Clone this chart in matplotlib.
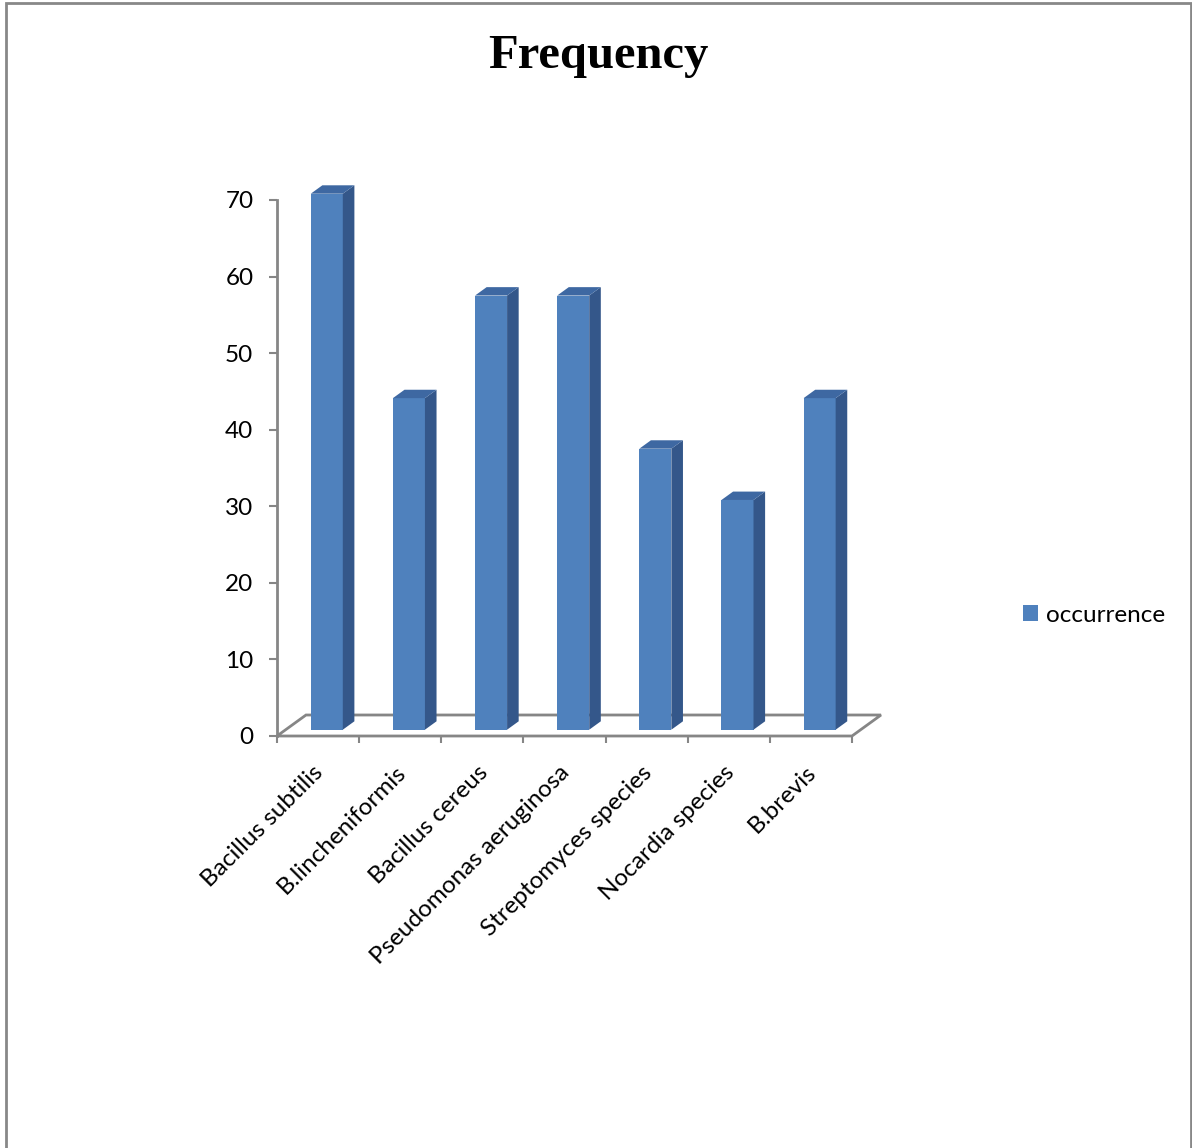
import matplotlib
matplotlib.use("Agg")
import matplotlib.pyplot as plt
import matplotlib.transforms as mtransforms
from matplotlib.patches import Polygon, Rectangle

# data
categories = ["Bacillus subtilis", "B.lincheniformis", "Bacillus cereus",
              "Pseudomonas aeruginosa", "Streptomyces species",
              "Nocardia species", "B.brevis"]
occurrence = [70, 43.3, 56.7, 56.7, 36.7, 30, 43.3]
y_ticks = [0, 10, 20, 30, 40, 50, 60, 70]

plt.rcParams['font.family'] = ['Lato', 'DejaVu Sans']
FS = 17.5

W, H = 1192, 1148
fig = plt.figure(figsize=(W / 100, H / 100), dpi=100)
ax = fig.add_axes([277 / W, (H - 736) / H, 575 / W, 536 / H])
ax.set_xlim(-0.5, len(categories) - 0.5)
ax.set_ylim(0, 70)

# 3d look: depth vector of the floor in data units
px_x = 575 / len(categories)
px_y = 536 / 70
DX, DY = 29 / px_x, 21 / px_y
front_dx, front_dy = 0.3 * DX, 0.3 * DY
bar_dx, bar_dy = 0.4 * DX, 0.4 * DY
bw = 0.39

front_c = '#4F81BD'
side_c = '#34578A'
top_c = '#3E68A2'
grey = '#868686'

# floor
n = len(categories)
floor = Polygon([(-0.5, 0), (n - 0.5, 0), (n - 0.5 + DX, DY), (-0.5 + DX, DY)],
                closed=True, facecolor='white', edgecolor=grey, lw=2,
                clip_on=False, zorder=1)
ax.add_patch(floor)

for i, v in enumerate(occurrence):
    left = i + front_dx - bw / 2
    right = left + bw
    bot = front_dy
    top = v + front_dy
    ax.bar(i + front_dx, v, width=bw, bottom=bot, color=front_c,
           clip_on=False, zorder=3, label='occurrence' if i == 0 else None)
    ax.add_patch(Polygon([(right, bot), (right, top), (right + bar_dx, top + bar_dy),
                          (right + bar_dx, bot + bar_dy)], closed=True,
                         facecolor=side_c, edgecolor='none', clip_on=False, zorder=3))
    ax.add_patch(Polygon([(left, top), (right, top), (right + bar_dx, top + bar_dy),
                          (left + bar_dx, top + bar_dy)], closed=True,
                         facecolor=top_c, edgecolor='none', clip_on=False, zorder=3))

# axes styling
for s in ['top', 'right', 'bottom']:
    ax.spines[s].set_visible(False)
ax.spines['left'].set_color(grey)
ax.spines['left'].set_linewidth(2)
ax.set_yticks(y_ticks)
ax.tick_params(axis='y', direction='out', length=6, width=1.5, color=grey,
               labelsize=FS, pad=11)
ax.set_xticks([i - 0.5 for i in range(n + 1)])
ax.set_xticklabels([])
ax.tick_params(axis='x', direction='out', length=5, width=1.5, color=grey)
ax.patch.set_visible(False)

# rotated category labels
trans = mtransforms.blended_transform_factory(ax.transData, ax.transAxes) + \
    mtransforms.ScaledTranslation(2 / 100, -33 / 100, fig.dpi_scale_trans)
for i, c in enumerate(categories):
    ax.text(i, 0, c, transform=trans, rotation=45, rotation_mode='anchor',
            ha='right', va='center', fontsize=FS)

# title
fig.text(598 / W, 1 - 68 / H, 'Frequency', ha='center', va='baseline',
         fontsize=35, fontweight='bold', family='Liberation Serif')

# legend
fig.legend(loc='center left', bbox_to_anchor=(1023 / W, 1 - 615 / H),
           frameon=False, fontsize=FS, handlelength=0.6, handleheight=0.6,
           handletextpad=0.35, borderpad=0, borderaxespad=0)

# chart border
fig.add_artist(Rectangle((5.5 / W, -0.01), 1185.5 / W, 1.01 - 2.5 / H,
                         transform=fig.transFigure, fill=False,
                         edgecolor='#888888', lw=2))

fig.savefig('out.png', dpi=100)
